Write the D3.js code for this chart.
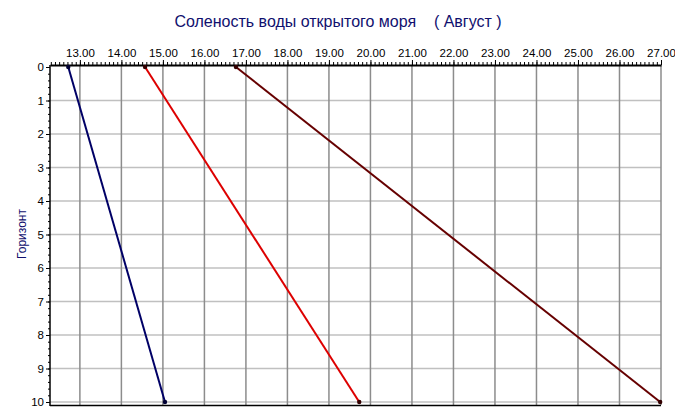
<!DOCTYPE html>
<html><head><meta charset="utf-8">
<script src="https://cdn.jsdelivr.net/npm/d3@7"></script>
<style>
body{margin:0;background:#fff;}
svg{display:block;font-family:"Liberation Sans",Arial,sans-serif;}
</style></head>
<body>
<svg id="c" width="675" height="419"></svg>
<script>
const title = "Соленость воды открытого моря    ( Август )";
const yTitle = "Горизонт";
const horizons = [0, 10];
const seriesBlue = [12.72, 15.05];
const seriesRed = [14.57, 19.73];
const seriesMaroon = [16.76, 26.98];
const xTicks = [13,14,15,16,17,18,19,20,21,22,23,24,25,26,27];
const yTicks = [0,1,2,3,4,5,6,7,8,9,10];
const colors = ["#000066", "#dd0000", "#660000"];

const svg = d3.select("#c");
const x = d3.scaleLinear().domain([12.28, 27.0]).range([50, 661]);
const y = d3.scaleLinear().domain([0, 10]).range([67, 402]);

// title
svg.append("text").attr("x", 338).attr("y", 27).attr("text-anchor", "middle")
  .attr("font-size", 16).attr("fill", "#10106e").style("white-space", "pre").text(title);
svg.append("text").attr("transform", "translate(26,234) rotate(-90)")
  .attr("text-anchor", "middle").attr("font-size", 12).attr("fill", "#10106e").text(yTitle);

// gridlines
svg.append("g").selectAll("line").data(yTicks.slice(1)).join("line")
  .attr("x1", 50).attr("x2", 661).attr("y1", d => y(d)).attr("y2", d => y(d))
  .attr("stroke", "#c0c0c0").attr("stroke-width", 1.5);
svg.append("g").selectAll("line").data(xTicks).join("line")
  .attr("x1", d => x(d)).attr("x2", d => x(d)).attr("y1", 65).attr("y2", 405)
  .attr("stroke", "#8c8c8c").attr("stroke-width", 1.5);

// bottom border
svg.append("line").attr("x1", 50).attr("x2", 661).attr("y1", 405.5).attr("y2", 405.5)
  .attr("stroke", "#000").attr("stroke-width", 1.5);

// top axis
const minorX = d3.range(123, 271).map(v => v / 10);
svg.append("g").attr("transform", "translate(0,65)")
  .call(d3.axisTop(x).tickValues(minorX).tickSize(3).tickFormat(""))
  .call(g => g.select(".domain").remove())
  .call(g => g.selectAll("line").attr("stroke", "#000"));
svg.append("g").attr("transform", "translate(0,65)")
  .call(d3.axisTop(x).tickValues(xTicks).tickSize(5).tickPadding(3).tickSizeOuter(0).tickFormat(d3.format(".2f")))
  .call(g => g.select(".domain").attr("stroke-width", 2))
  .call(g => g.selectAll("text").attr("font-size", 11.5).attr("fill", "#000").attr("font-family", "Liberation Sans, Arial, sans-serif"));

// left axis
const minorY = d3.range(0, 51).map(v => v / 5);
svg.append("g").attr("transform", "translate(50,0)")
  .call(d3.axisLeft(y).tickValues(minorY).tickSize(2).tickFormat(""))
  .call(g => g.select(".domain").remove());
svg.append("g").attr("transform", "translate(50,0)")
  .call(d3.axisLeft(y).tickValues(yTicks).tickSize(4).tickPadding(2).tickSizeOuter(0).tickFormat(d3.format("d")))
  .call(g => g.select(".domain").attr("stroke-width", 1.5).attr("d", "M0,65V406"))
  .call(g => g.selectAll("text").attr("font-size", 11.5).attr("fill", "#000").attr("font-family", "Liberation Sans, Arial, sans-serif"));

// series
const series = [seriesBlue, seriesRed, seriesMaroon];
const line = d3.line().x(d => x(d[0])).y(d => y(d[1]));
series.forEach((s, i) => {
  const pts = s.map((v, j) => [v, horizons[j]]);
  svg.append("path").datum(pts).attr("d", line).attr("fill", "none")
    .attr("stroke", colors[i]).attr("stroke-width", 2);
  svg.append("g").selectAll("circle").data(pts).join("circle")
    .attr("cx", d => x(d[0])).attr("cy", d => y(d[1])).attr("r", 2.2)
    .attr("fill", i === 0 ? "#000033" : "#330000");
});
</script>
</body></html>
